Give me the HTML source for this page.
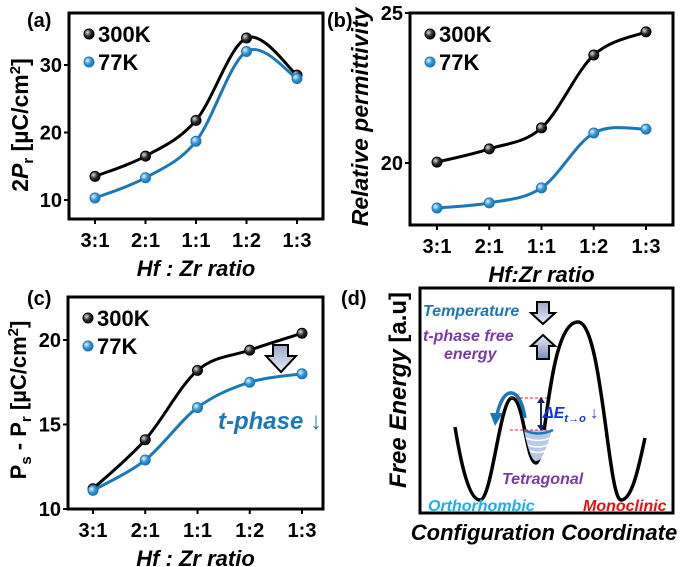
<!DOCTYPE html>
<html><head><meta charset="utf-8"><style>
body{margin:0;background:#fff;}
svg{display:block;font-family:"Liberation Sans",Arial,sans-serif;font-weight:bold;}
</style></head><body>
<svg id="fig" width="685" height="567" viewBox="0 0 685 567">
<defs>
<radialGradient id="gk" cx="0.35" cy="0.35" r="0.7"><stop offset="0" stop-color="#ddd"/><stop offset="0.5" stop-color="#333"/><stop offset="1" stop-color="#000"/></radialGradient>
<radialGradient id="gb" cx="0.35" cy="0.35" r="0.7"><stop offset="0" stop-color="#e6f4ff"/><stop offset="0.5" stop-color="#3a9ad6"/><stop offset="1" stop-color="#1470b0"/></radialGradient>
<linearGradient id="ga" x1="0" y1="0" x2="0" y2="1"><stop offset="0" stop-color="#9aa8c8"/><stop offset="1" stop-color="#e8eefa"/></linearGradient>
<linearGradient id="ga2" x1="0" y1="0" x2="0" y2="1"><stop offset="0" stop-color="#e8eefa"/><stop offset="1" stop-color="#7a8cb8"/></linearGradient>
</defs>
<g id="panels"></g>
<g>
<text x="341" y="305" font-size="20">(d)</text>
<rect x="420" y="288" width="253" height="225" fill="none" stroke="#000" stroke-width="3"/>
<path d="M455,427 C462,470 470,500 480,500 C492,500 500,398 512,398 C524,398 526,463 536,463 C546,463 548,322 578,322 C602,322 608,500 621,500 C633,500 640,460 645,438" fill="none" stroke="#000" stroke-width="3.5"/>
<path d="M524,430 C528,450 532,461 536,461 C542,461 546,450 552,430 Z" fill="#b9c8e8"/>
<path d="M524,430 Q538,437 553,430" fill="none" stroke="#1a78b8" stroke-width="2.5"/>
<path d="M526,438 Q538,443 550,438 M528,445 Q538,449 548,445 M530,451 Q538,454 545,451" fill="none" stroke="#fff" stroke-width="1.5"/>
<path d="M525,418 C520,385 503,385 497,415" fill="none" stroke="#1a78b8" stroke-width="3.5"/>
<polygon points="490,413 503,413 495,426" fill="#1a78b8"/>
<line x1="510" y1="398" x2="547" y2="398" stroke="#e02020" stroke-dasharray="3,2"/>
<line x1="510" y1="430" x2="547" y2="430" stroke="#e02020" stroke-dasharray="3,2"/>
<line x1="541" y1="401" x2="541" y2="427" stroke="#102a60" stroke-width="2"/>
<polygon points="537,403 545,403 541,397" fill="#102a60"/><polygon points="537,425 545,425 541,431" fill="#102a60"/>
<text x="543" y="418" font-size="16" font-style="italic" fill="#1530e0">ΔE<tspan font-size="11" dy="4">t→o</tspan><tspan dy="-4"> ↓</tspan></text>
<text x="423" y="316" font-size="16" font-style="italic" fill="#1a78b8">Temperature</text>
<text x="423" y="341" font-size="16" font-style="italic" fill="#7a3aa8">t-phase free</text>
<text x="444" y="359" font-size="16" font-style="italic" fill="#7a3aa8">energy</text>
<polygon points="537,302 549,302 549,313 555,313 543,324 531,313 537,313" fill="url(#ga)" stroke="#000" stroke-width="2"/>
<polygon points="537,359 549,359 549,346 555,346 543,335 531,346 537,346" fill="url(#ga2)" stroke="#000" stroke-width="2"/>
<text x="502" y="484" font-size="16" font-style="italic" fill="#7a3aa8">Tetragonal</text>
<text x="428" y="511" font-size="16" font-style="italic" fill="#1ab0f0">Orthorhombic</text>
<text x="583" y="511" font-size="16" font-style="italic" fill="#e81010">Monoclinic</text>
<text x="544" y="540" font-size="22" font-style="italic" text-anchor="middle">Configuration Coordinate</text>
<text transform="translate(406,390) rotate(-90)" font-size="24" text-anchor="middle"><tspan font-style="italic">Free Energy</tspan> [a.u]</text>
</g>
</svg>
<script>
const categories=["3:1","2:1","1:1","1:2","1:3"];
const a300=[13.5,16.5,21.8,34,28.5];
const a77=[10.3,13.3,18.7,32,28];
const aTicks=[10,20,30];
const b300=[20.03,20.47,21.17,23.6,24.37];
const b77=[18.5,18.67,19.17,21.0,21.13];
const bTicks=[20,25];
const c300=[11.2,14.1,18.2,19.4,20.4];
const c77=[11.1,12.9,16.0,17.5,18.0];
const cTicks=[10,15,20];
const NS="http://www.w3.org/2000/svg";
const root=document.getElementById('panels');
function mk(t,at,par){const e=document.createElementNS(NS,t);for(const k in at)e.setAttribute(k,at[k]);(par||root).appendChild(e);return e;}
function smooth(p){let d="M"+p[0][0]+","+p[0][1];for(let i=0;i<p.length-1;i++){const p0=p[i-1]||p[i],p1=p[i],p2=p[i+1],p3=p[i+2]||p2;const c1x=p1[0]+(p2[0]-p0[0])/6,c1y=p1[1]+(p2[1]-p0[1])/6,c2x=p2[0]-(p3[0]-p1[0])/6,c2y=p2[1]-(p3[1]-p1[1])/6;d+=" C"+c1x+","+c1y+" "+c2x+","+c2y+" "+p2[0]+","+p2[1];}return d;}
function panel(cfg){
 const g=mk('g',{});
 
 
 const xs=i=>cfg.x0+i*(cfg.x1-cfg.x0)/(categories.length-1);
 const ys=v=>cfg.yb-(v-cfg.vmin)*(cfg.yb-cfg.yt)/(cfg.vmax-cfg.vmin);
 const fr=mk('rect',{x:cfg.L,y:cfg.T,width:cfg.R-cfg.L,height:cfg.B-cfg.T,fill:'none',stroke:'#000','stroke-width':3},g);
 
 
 categories.forEach((c,i)=>{
  mk('line',{x1:xs(i),x2:xs(i),y1:cfg.B,y2:cfg.B+5,stroke:'#000','stroke-width':2},g);
  const t=mk('text',{x:xs(i),y:cfg.B+28,'font-size':20,'text-anchor':'middle'},g);t.textContent=c;
  
  
 });
 cfg.ticks.forEach(v=>{
  mk('line',{x1:cfg.L-5,x2:cfg.L,y1:ys(v),y2:ys(v),stroke:'#000','stroke-width':2},g);
  const t=mk('text',{x:cfg.L-7,y:ys(v)+7,'font-size':20,'text-anchor':'end'},g);t.textContent=v;
  
  
 });
 [[cfg.s300,'#000','url(#gk)','300K'],[cfg.s77,'#1a78b8','url(#gb)','77K']].forEach(([s,col,gr,nm])=>{
  const pts=s.map((v,i)=>[xs(i),ys(v)]);
  const l=mk('path',{d:smooth(pts),fill:'none',stroke:col,'stroke-width':3},g);
  
  
  pts.forEach(p=>{const c=mk('circle',{cx:p[0],cy:p[1],r:5,fill:gr,stroke:col,'stroke-width':1},g);
   
   });
 });
 [['300K','url(#gk)','#000',0],['77K','url(#gb)','#1a78b8',28]].forEach(([nm,gr,col,dy])=>{
  const c=mk('circle',{cx:cfg.L+20,cy:cfg.T+21+dy,r:5,fill:gr,stroke:col},g);
  
  
  const t=mk('text',{x:cfg.L+29,y:cfg.T+29+dy,'font-size':22},g);t.textContent=nm;
  
  
 });
 const lb=mk('text',{x:cfg.lx,y:cfg.ly,'font-size':20},g);lb.textContent=cfg.label;
 
 
 const xt=mk('text',{x:(cfg.L+cfg.R)/2,y:cfg.B+57,'font-size':22,'font-style':'italic','text-anchor':'middle'},g);xt.textContent=cfg.xtitle;
 
 
 const yt=mk('text',{transform:'translate('+cfg.ytx+','+cfg.yty+') rotate(-90)','font-size':cfg.yfs,'text-anchor':'middle'},g);
 yt.innerHTML=cfg.ytitle;
 
 
 return {g,xs,ys};
}
panel({name:'panel-a',L:69,R:323,T:13,B:219,x0:95,x1:297,yb:200,yt:65,vmin:10,vmax:30,ticks:aTicks,s300:a300,s77:a77,label:'(a)',lx:27,ly:27,xtitle:'Hf : Zr ratio',ytx:28,yty:125,yfs:23,ytitle:'2<tspan font-style="italic">P</tspan><tspan font-size="15" dy="5">r</tspan><tspan dy="-5"> [µC/cm</tspan><tspan font-size="15" dy="-8">2</tspan><tspan dy="8">]</tspan>'});
panel({name:'panel-b',L:410,R:673,T:13,B:225,x0:437,x1:646,yb:163,yt:13,vmin:20,vmax:25,ticks:bTicks,s300:b300,s77:b77,label:'(b)',lx:327,ly:27,xtitle:'Hf:Zr ratio',ytx:368,yty:117,yfs:23,ytitle:'<tspan font-style="italic">Relative permittivity</tspan>'});
const pc=panel({name:'panel-c',L:68,R:323,T:297,B:509,x0:93,x1:302,yb:509,yt:340,vmin:10,vmax:20,ticks:cTicks,s300:c300,s77:c77,label:'(c)',lx:27,ly:305,xtitle:'Hf : Zr ratio',ytx:26,yty:400,yfs:22,ytitle:'P<tspan font-size="15" dy="5">s</tspan><tspan dy="-5"> - P</tspan><tspan font-size="15" dy="5">r</tspan><tspan dy="-5"> [µC/cm</tspan><tspan font-size="15" dy="-8">2</tspan><tspan dy="8">]</tspan>'});
const ar=mk('polygon',{points:'273,345 288,345 288,356 296,356 281,372 266,356 273,356',fill:'url(#ga)',stroke:'#000','stroke-width':2},pc.g);


const tp=mk('text',{x:322,y:429,'font-size':24,'font-style':'italic',fill:'#1a78b8','text-anchor':'end'},pc.g);tp.textContent='t-phase ↓';


</script>
</body></html>
